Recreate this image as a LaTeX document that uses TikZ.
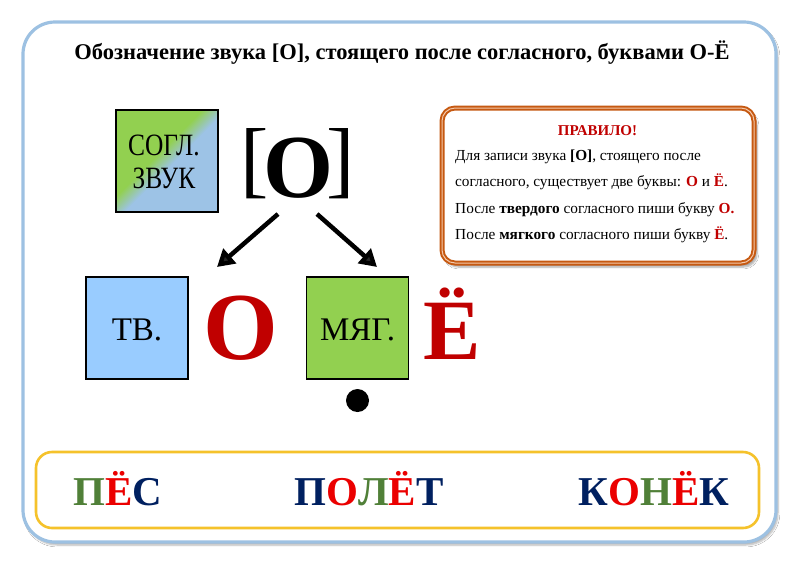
\documentclass[tikz,border=0pt]{standalone}
\usepackage{fontspec}
\setmainfont{Liberation Serif}
\usetikzlibrary{arrows.meta,shadows.blur}
\definecolor{outerBlue}{RGB}{157,193,226}
\definecolor{ruleOrange}{RGB}{198,89,17}
\definecolor{ruleLight}{RGB}{244,200,170}
\definecolor{yellowB}{RGB}{245,194,43}
\definecolor{gGreen}{RGB}{146,208,80}
\definecolor{lBlue}{RGB}{157,195,230}
\definecolor{tvBlue}{RGB}{153,204,255}
\definecolor{darkRed}{RGB}{192,0,0}
\definecolor{wGreen}{RGB}{80,128,56}
\definecolor{wRed}{RGB}{235,0,0}
\definecolor{wBlue}{RGB}{0,32,96}
\newcommand{\myrr}[1]{\textcolor{darkRed}{\textbf{#1}}}
\newcommand{\mywg}[1]{\textcolor{wGreen}{#1}}
\newcommand{\mywr}[1]{\textcolor{wRed}{#1}}
\newcommand{\mywb}[1]{\textcolor{wBlue}{#1}}
\begin{document}
\begin{tikzpicture}[x=1pt,y=-1pt,
  txt/.style={inner sep=0pt, anchor=base},
  sqbox/.style={draw=black, line width=1.3pt},
  bigarrow/.style={line width=4.5pt, -{Triangle[width=19pt,length=17pt]}},
  ruletxt/.style={inner sep=0pt, anchor=base west, font=\fontsize{15.3}{17}\selectfont}
]
\useasboundingbox (0,0) rectangle (800,566);
\fill[white] (0,0) rectangle (800,566);
% outer frame
\draw[outerBlue, line width=3.2pt, rounded corners=32pt, fill=white,
  blur shadow={shadow xshift=2pt, shadow yshift=-3pt, shadow opacity=30, shadow blur steps=6}]
  (23,22) rectangle (776,542);
% title
\node[txt] (title) at (402,59) {\fontsize{22.5}{25}\selectfont\bfseries Обозначение\ звука\ [О],\ стоящего\ после\ согласного,\ буквами\ О-Ё};
% СОГЛ ЗВУК square with diagonal blend
\begin{scope}
  \clip (116,110) rectangle (218,212);
  \fill[gGreen] (116,110) rectangle (218,212);
  \foreach \i in {0,...,11} {
    \pgfmathsetmacro{\c}{314+2*\i}
    \pgfmathsetmacro{\m}{100-100*(\i+1)/12}
    \fill[gGreen!\m!lBlue] (\c-110,110) -- (300,110) -- (300,212) -- (\c-212,212) -- cycle;
  }
\end{scope}
\node[sqbox, minimum width=102pt, minimum height=102pt, inner sep=0pt] (sogl) at (167,161) {};
\node[txt] (sogl1) at (164,155) {\fontsize{31}{34}\selectfont\scalebox{0.82}[1]{СОГЛ.}};
\node[txt] (sogl2) at (164,188) {\fontsize{31}{34}\selectfont\scalebox{0.82}[1]{ЗВУК}};
% [O]
\node[txt] (br) at (298.5,197) {\llap{\raisebox{10pt}{\fontsize{85}{90}\selectfont[}\kern-5.7pt}{\fontsize{90}{95}\selectfont\textbf{О}}\rlap{\kern-6.7pt\raisebox{10pt}{\fontsize{85}{90}\selectfont]}}};
\coordinate (aLs) at (278,214);
\coordinate (aLe) at (217,267);
\coordinate (aRs) at (317,214);
\coordinate (aRe) at (377,267);
\draw[bigarrow] (aLs) -- (aLe);
\draw[bigarrow] (aRs) -- (aRe);
% ТВ square
\node[sqbox, fill=tvBlue, minimum width=102pt, minimum height=102pt, inner sep=0pt] (tv) at (137,328) {};
\node[txt] (tvt) at (137,340) {\fontsize{33}{36}\selectfont ТВ.};
\node[txt] (bigO) at (240.5,359) {\fontsize{96}{100}\selectfont\myrr{О}};
% МЯГ square
\node[sqbox, fill=gGreen, minimum width=102pt, minimum height=102pt, inner sep=0pt] (myag) at (357.5,328) {};
\node[txt] (myagt) at (357.5,340) {\fontsize{33}{36}\selectfont МЯГ.};
\node[txt] (bigE) at (452,359) {\fontsize{86}{90}\selectfont\myrr{Ё}};
\fill[black] (357.5,400.5) circle (11.5pt);
% rule box
\draw[ruleOrange, double=ruleLight, double distance=1pt, line width=2pt, rounded corners=13pt, fill=white,
  blur shadow={shadow xshift=3pt, shadow yshift=-4pt, shadow opacity=35, shadow blur steps=6}]
  (442,108) rectangle (754,263);
\node[txt] (rtitle) at (597.5,135) {\fontsize{15}{17}\selectfont\myrr{ПРАВИЛО!}};
\node[ruletxt] (r1) at (455,160) {Для записи звука \textbf{[О]}, стоящего после};
\node[ruletxt] (r2) at (455,186) {согласного, существует две буквы: \myrr{О} и \myrr{Ё}.};
\node[ruletxt] (r3) at (455,213) {После \textbf{твердого} согласного пиши букву \myrr{О.}};
\node[ruletxt] (r4) at (455,239) {После \textbf{мягкого} согласного пиши букву \myrr{Ё}.};
% bottom box
\draw[yellowB, line width=2.6pt, rounded corners=16pt, fill=white] (36,452) rectangle (759,528);
\node[txt] (w1) at (118,505) {\fontsize{41}{44}\selectfont\bfseries\mywg{П}\mywr{Ё}\mywb{С}};
\node[txt] (w2) at (369,505) {\fontsize{41}{44}\selectfont\bfseries\mywb{П}\mywr{О}\mywg{Л}\mywr{Ё}\mywb{Т}};
\node[txt] (w3) at (654,505) {\fontsize{41}{44}\selectfont\bfseries\mywb{К}\mywr{О}\mywg{Н}\mywr{Ё}\mywb{К}};
\end{tikzpicture}
\end{document}
